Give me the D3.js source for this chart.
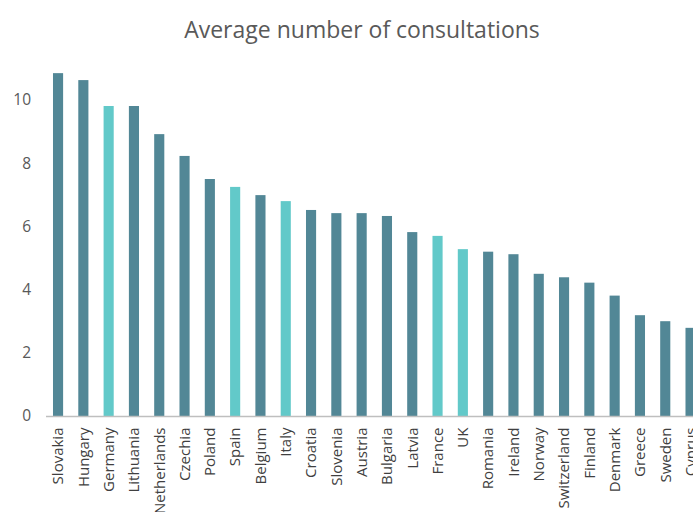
<!DOCTYPE html>
<html><head><meta charset="utf-8">
<script src="https://cdn.jsdelivr.net/npm/d3@7"></script>
<style>body{margin:0;background:#fff;overflow:hidden}</style>
</head><body>
<svg id="c" width="693" height="512"></svg>
<script>
const categories = ["Slovakia","Hungary","Germany","Lithuania","Netherlands","Czechia","Poland","Spain","Belgium","Italy","Croatia","Slovenia","Austria","Bulgaria","Latvia","France","UK","Romania","Ireland","Norway","Switzerland","Finland","Denmark","Greece","Sweden","Cyprus"];
const values = [10.85,10.63,9.81,9.81,8.92,8.23,7.5,7.25,6.99,6.8,6.52,6.42,6.42,6.33,5.82,5.7,5.28,5.2,5.12,4.5,4.39,4.22,3.81,3.19,3.0,2.79];
const highlighted = ["Germany","Spain","Italy","France","UK"];
const yTicks = [0,2,4,6,8,10];
const title = "Average number of consultations";

const svg = d3.select("#c");
const font = "'Open Sans', 'Liberation Sans', sans-serif";
const x = d3.scaleBand().domain(categories).range([45.4, 45.4 + 26*25.3]).paddingInner(0.6).paddingOuter(0.3);
const y = d3.scaleLinear().domain([0,10]).range([416, 100]);

svg.append("text").attr("x", 362).attr("y", 38).attr("text-anchor","middle")
  .attr("font-family", font).attr("font-size", 23).attr("fill","#595959").text(title);

svg.selectAll("rect.bar").data(categories).join("rect").attr("class","bar")
  .attr("x", d => x(d)).attr("width", x.bandwidth())
  .attr("y", (d,i) => y(values[i])).attr("height", (d,i) => y(0) - y(values[i]))
  .attr("fill", d => highlighted.includes(d) ? "#62c9c9" : "#528796");

const ya = svg.append("g").attr("transform","translate(31,0)")
  .call(d3.axisLeft(y).tickValues(yTicks).tickSize(0).tickPadding(0));
ya.select(".domain").remove();
ya.selectAll("text").attr("font-family", font).attr("font-size", 15.5).attr("fill","#595959");

const xa = svg.append("g").attr("transform","translate(0,416.5)")
  .call(d3.axisBottom(x).tickSize(0).tickPadding(0));
xa.select(".domain").attr("stroke","#bfbfbf").attr("stroke-width",1.5).attr("d","M46,0H693");
xa.selectAll("text").attr("font-family", font).attr("font-size", 15).attr("fill","#404040")
  .attr("transform","rotate(-90)").attr("text-anchor","end").attr("dy","0.35em").attr("x",-11).attr("y",0);
</script>
</body></html>
